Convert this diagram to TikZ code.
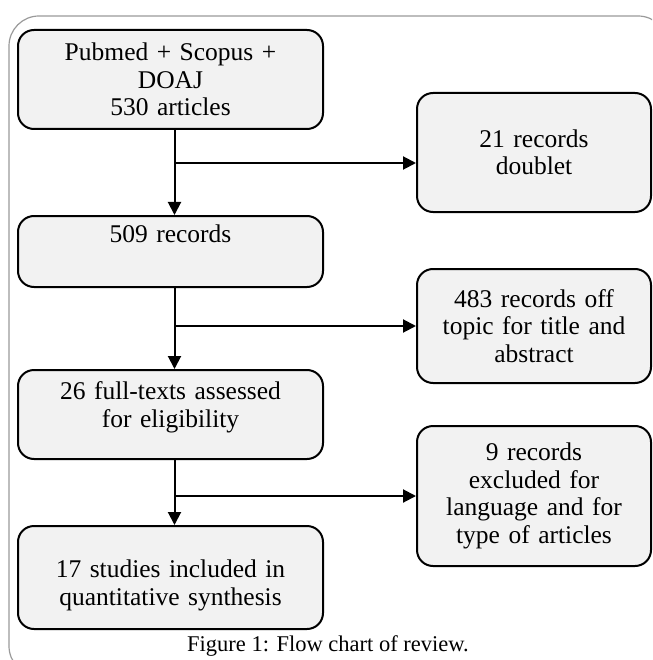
\documentclass[tikz,border=0pt]{standalone}
\usepackage{fontspec}
\setmainfont{Liberation Serif}
\usetikzlibrary{arrows.meta,calc}
\definecolor{boxfill}{HTML}{F2F2F2}
\definecolor{framegray}{HTML}{9A9A9A}
\tikzset{
  flowbox/.style={draw=black, line width=2pt, fill=boxfill, rounded corners=16pt,
    inner sep=0pt, align=center, anchor=north west,
    font=\fontsize{25.5}{27.5}\selectfont},
  leftbox/.style={flowbox, minimum width=305pt, text width=300pt},
  rightbox/.style={flowbox, minimum width=234pt, text width=228pt},
  flowline/.style={line width=2pt, draw=black},
  flowarrow/.style={flowline, -{Triangle[length=13pt,width=13pt]}},
}
\begin{document}
\begin{tikzpicture}[x=1pt,y=-1pt]
\useasboundingbox (0,0) rectangle (652,660);
\begin{scope}
  \clip (0,0) rectangle (652,660);
  \draw[framegray, line width=1.2pt, rounded corners=30pt] (9,16) rectangle (668,676);
\end{scope}
% left column
\node[leftbox, minimum height=99pt] (b1) at (17,29) {Pubmed + Scopus +\\DOAJ\\530 articles};
\node[leftbox, minimum height=71pt] (b2) at (17,215) {509 records\\\strut};
\node[leftbox, minimum height=89pt] (b3) at (17,369) {26 full-texts assessed\\for eligibility\rule[-19.75pt]{0pt}{0pt}};
\node[leftbox, minimum height=103pt] (b4) at (17,525) {\rule{0pt}{33pt}17 studies included in\\quantitative synthesis};
% right column
\node[rightbox, minimum height=119pt] (r1) at (416,92) {21 records\\doublet};
\node[rightbox, minimum height=114pt] (r2) at (416,268) {483 records off\\topic for title and\\abstract};
\node[rightbox, minimum height=140pt] (r3) at (416,425) {9 records\\excluded for\\language and for\\type of articles};
% connectors
\coordinate (s1) at ($(b1.south)+(4,0)$);
\coordinate (s2) at ($(b2.south)+(4,0)$);
\coordinate (s3) at ($(b3.south)+(4,0)$);
\coordinate (h1) at (s1 |- 0,163);
\draw[flowarrow] (s1) -- (s1 |- b2.north);
\draw[flowarrow] (s2) -- (s2 |- b3.north);
\draw[flowarrow] (s3) -- (s3 |- b4.north);
\draw[flowarrow] (h1) -- (h1 -| r1.west);
\draw[flowarrow] (s2 |- r2.west) -- (r2.west);
\draw[flowarrow] (s3 |- r3.west) -- (r3.west);
% caption
\node[anchor=base, inner sep=0pt, font=\fontsize{22.5}{26}\selectfont] (cap) at (328,651) {Figure 1: Flow chart of review.};
\end{tikzpicture}
\end{document}
